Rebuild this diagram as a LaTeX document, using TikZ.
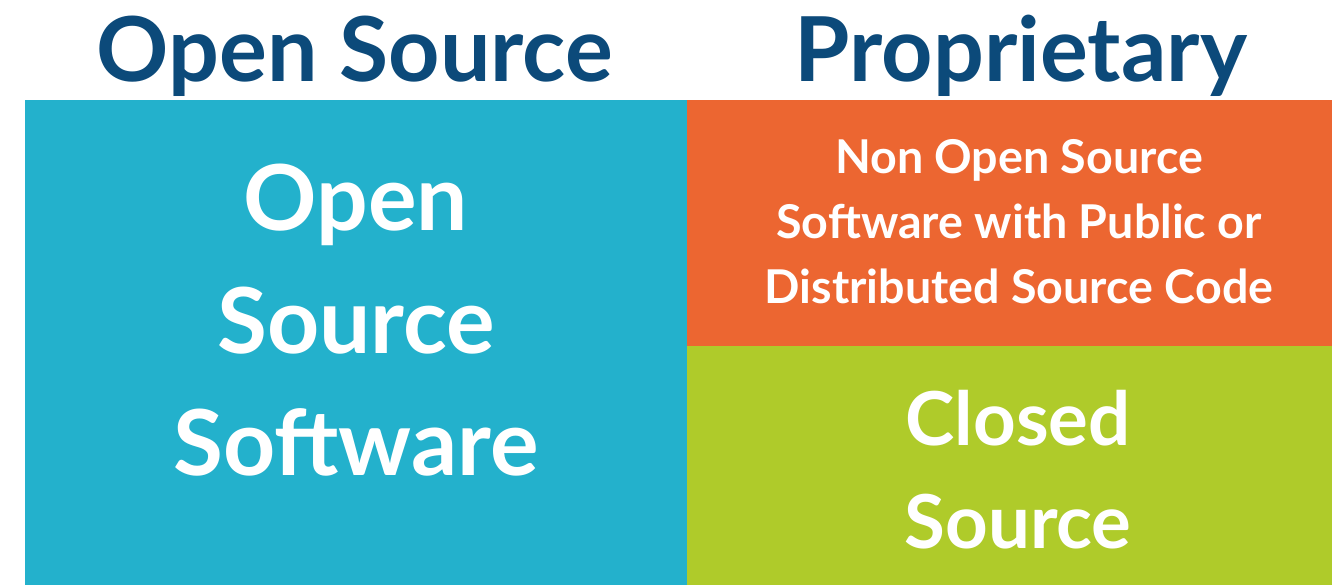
\documentclass[tikz,border=0pt]{standalone}
\usepackage{fontspec}
\setmainfont{Lato}
\definecolor{osblue}{HTML}{23B1CC}
\definecolor{ccorange}{HTML}{EC6631}
\definecolor{csgreen}{HTML}{AFCB2A}
\definecolor{titleblue}{HTML}{0C4A7A}
\begin{document}
\begin{tikzpicture}[x=0.5pt,y=-0.5pt,
  header/.style={anchor=base,inner sep=0pt,text=titleblue,font=\fontsize{44.8}{52}\selectfont\bfseries},
  bigtxt/.style={anchor=base,inner sep=0pt,text=white,font=\fontsize{45.5}{52}\selectfont\bfseries},
  midtxt/.style={anchor=base,inner sep=0pt,text=white,font=\fontsize{37.2}{46}\selectfont\bfseries},
  smalltxt/.style={anchor=base,inner sep=0pt,text=white,font=\fontsize{23.3}{30}\selectfont\bfseries}]
\useasboundingbox[fill=white] (0,0) rectangle (1332,585);
\fill[osblue] (25,100) rectangle (687,585);
\fill[ccorange] (687,100) rectangle (1332,346);
\fill[csgreen] (687,346) rectangle (1332,585);
\node[header] (h1) at (355,81) {Open Source};
\node[header] (h2) at (1021,81) {Proprietary};
\node[bigtxt] (o1) at (356,230) {Open};
\node[bigtxt] (o2) at (356,353) {Source};
\node[bigtxt] (o3) at (356,475) {Software};
\node[smalltxt] (n1) at (1019,173) {Non Open Source};
\node[smalltxt] (n2) at (1019,238) {Software with Public or};
\node[smalltxt] (n3) at (1019,303) {Distributed Source Code};
\node[midtxt] (c1) at (1018,445) {Closed};
\node[midtxt] (c2) at (1018,548) {Source};
\end{tikzpicture}
\end{document}
